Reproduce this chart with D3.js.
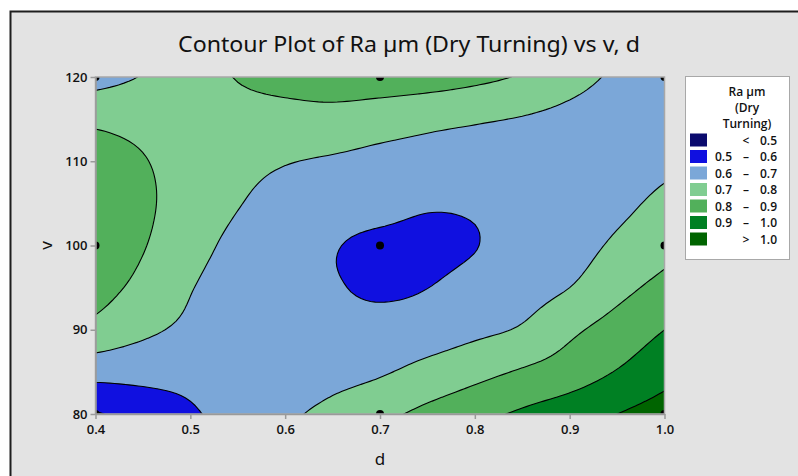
<!DOCTYPE html>
<html>
<head>
<meta charset="utf-8">
<script src="https://cdn.jsdelivr.net/npm/d3@7"></script>
<style>
  body { margin: 0; background: #fff; }
  svg text { font-family: "Noto Sans", "Open Sans", sans-serif; fill: #111; }
</style>
</head>
<body>
<div id="chart"></div>
<script>
// values
const dTicks = [0.4, 0.5, 0.6, 0.7, 0.8, 0.9, 1.0];
const vTicks = [80, 90, 100, 110, 120];

// grid of Ra (µm): columns are d, rows are v
const dLevels = [0.40, 0.45, 0.50, 0.55, 0.60, 0.65, 0.70, 0.75, 0.80, 0.85, 0.90, 0.95, 1.00];
const vLevels = [80, 85, 90, 95, 100, 105, 110, 115, 120];
const raRows = [
  [0.490, 0.545, 0.590, 0.630, 0.680, 0.730, 0.775, 0.825, 0.870, 0.915, 0.955, 1.000, 1.045],
  [0.635, 0.630, 0.625, 0.625, 0.635, 0.665, 0.690, 0.730, 0.770, 0.810, 0.850, 0.905, 0.965],
  [0.770, 0.720, 0.680, 0.650, 0.635, 0.630, 0.635, 0.650, 0.680, 0.710, 0.780, 0.840, 0.900],
  [0.835, 0.775, 0.705, 0.655, 0.620, 0.607, 0.586, 0.599, 0.640, 0.665, 0.700, 0.770, 0.830],
  [0.850, 0.805, 0.735, 0.675, 0.635, 0.606, 0.576, 0.569, 0.596, 0.650, 0.665, 0.715, 0.765],
  [0.860, 0.815, 0.760, 0.705, 0.665, 0.648, 0.640, 0.612, 0.615, 0.635, 0.655, 0.680, 0.720],
  [0.845, 0.805, 0.765, 0.730, 0.705, 0.690, 0.675, 0.665, 0.660, 0.655, 0.650, 0.660, 0.680],
  [0.780, 0.770, 0.765, 0.765, 0.765, 0.765, 0.745, 0.725, 0.710, 0.695, 0.675, 0.655, 0.645],
  [0.660, 0.705, 0.750, 0.805, 0.835, 0.855, 0.860, 0.850, 0.825, 0.790, 0.735, 0.685, 0.650]
];

// design points
const pointD = [0.4, 0.4, 0.4, 0.7, 0.7, 0.7, 1.0, 1.0, 1.0];
const pointV = [80, 100, 120, 80, 100, 120, 80, 100, 120];

// legend bands
const bandBreaks = [0.5, 0.6, 0.7, 0.8, 0.9, 1.0];
const bandColors = ["#0b0b6e", "#1010e0", "#7ba7d8", "#80cd91", "#52b05b", "#008023", "#006400"];
const bandLow = ["", "0.5", "0.6", "0.7", "0.8", "0.9", ""];
const bandSign = ["<", "\u2013", "\u2013", "\u2013", "\u2013", "\u2013", ">"];
const bandHigh = ["0.5", "0.6", "0.7", "0.8", "0.9", "1.0", "1.0"];

const width = 798;
const height = 476;
const plotLeft = 95.5, plotRight = 664.5, plotTop = 77, plotBottom = 414;

let svg = d3.select("#chart").append("svg")
  .attr("width", width)
  .attr("height", height);

// outer frame
svg.append("rect")
  .attr("x", 10.5).attr("y", 11.5)
  .attr("width", width).attr("height", height)
  .attr("fill", "#e3e3e3")
  .attr("stroke", "#1e1e1e")
  .attr("stroke-width", 2);

svg.append("text")
  .attr("x", 409)
  .attr("y", 52)
  .attr("text-anchor", "middle")
  .style("font-size", "21px")
  .attr("textLength", 462)
  .attr("lengthAdjust", "spacingAndGlyphs")
  .text("Contour Plot of Ra \u00b5m (Dry Turning) vs v, d");

let xScale = d3.scaleLinear().domain([0.4, 1.0]).range([plotLeft, plotRight]);
let yScale = d3.scaleLinear().domain([80, 120]).range([plotBottom, plotTop]);

// smooth the read grid onto a finer one for drawing (Catmull-Rom)
const nCols = dLevels.length, nRows = vLevels.length;
function cell(i, j) {
  // linear extension past the edges
  if (i < 0) return 2 * cell(0, j) - cell(1, j);
  if (i > nCols - 1) return 2 * cell(nCols - 1, j) - cell(nCols - 2, j);
  if (j < 0) return 2 * cell(i, 0) - cell(i, 1);
  if (j > nRows - 1) return 2 * cell(i, nRows - 1) - cell(i, nRows - 2);
  return raRows[j][i];
}
function cr(p0, p1, p2, p3, t) {
  return 0.5 * (2 * p1 + (-p0 + p2) * t + (2 * p0 - 5 * p1 + 4 * p2 - p3) * t * t + (-p0 + 3 * p1 - 3 * p2 + p3) * t * t * t);
}
function sample(u, w) {
  let i = Math.min(Math.floor(u), nCols - 2), tx = u - i;
  let j = Math.min(Math.floor(w), nRows - 2), ty = w - j;
  let rows = [-1, 0, 1, 2].map(k => cr(cell(i - 1, j + k), cell(i, j + k), cell(i + 1, j + k), cell(i + 2, j + k), tx));
  return cr(rows[0], rows[1], rows[2], rows[3], ty);
}

const sub = 10;
const fx = (nCols - 1) * sub + 1, fy = (nRows - 1) * sub + 1;
const dStep = (dLevels[1] - dLevels[0]) / sub, vStep = (vLevels[1] - vLevels[0]) / sub;
let fine = new Array(fx * fy);
for (let y = 0; y < fy; y++) {
  for (let x = 0; x < fx; x++) {
    fine[y * fx + x] = sample(x / sub, y / sub);
  }
}

let contours = d3.contours().size([fx, fy]).thresholds(bandBreaks)(fine);

let proj = d3.geoTransform({
  point: function(x, y) {
    this.stream.point(xScale(dLevels[0] + (x - 0.5) * dStep), yScale(vLevels[0] + (y - 0.5) * vStep));
  }
});
let path = d3.geoPath(proj);

svg.append("clipPath").attr("id", "plotClip")
  .append("rect")
  .attr("x", plotLeft).attr("y", plotTop)
  .attr("width", plotRight - plotLeft).attr("height", plotBottom - plotTop);

let plot = svg.append("g").attr("clip-path", "url(#plotClip)");

plot.append("rect")
  .attr("x", plotLeft).attr("y", plotTop)
  .attr("width", plotRight - plotLeft).attr("height", plotBottom - plotTop)
  .attr("fill", bandColors[0]);

plot.selectAll("path.band")
  .data(contours)
  .enter().append("path")
  .attr("class", "band")
  .attr("d", path)
  .attr("fill", (d, i) => bandColors[i + 1]);

plot.selectAll("path.line")
  .data(contours)
  .enter().append("path")
  .attr("class", "line")
  .attr("d", path)
  .attr("fill", "none")
  .attr("stroke", "#000")
  .attr("stroke-width", 1.1);

plot.selectAll("circle")
  .data(pointD.map((d, i) => ({ d: d, v: pointV[i] })))
  .enter().append("circle")
  .attr("cx", p => xScale(p.d))
  .attr("cy", p => yScale(p.v))
  .attr("r", 4)
  .attr("fill", "#000");

// plot border
svg.append("rect")
  .attr("x", plotLeft).attr("y", plotTop)
  .attr("width", plotRight - plotLeft).attr("height", plotBottom - plotTop)
  .attr("fill", "none")
  .attr("stroke", "#a8a8a8")
  .attr("stroke-width", 1.5);

// axes
let xAxis = svg.append("g")
  .attr("transform", `translate(0,${plotBottom})`)
  .call(d3.axisBottom(xScale).tickValues(dTicks).tickFormat(d3.format(".1f")).tickSize(5).tickSizeOuter(0));
let yAxis = svg.append("g")
  .attr("transform", `translate(${plotLeft},0)`)
  .call(d3.axisLeft(yScale).tickValues(vTicks).tickSize(5).tickSizeOuter(0));

[xAxis, yAxis].forEach(ax => {
  ax.select(".domain").attr("stroke", "#9a9a9a").attr("stroke-width", 1.5);
  ax.selectAll(".tick line").attr("stroke", "#9a9a9a").attr("stroke-width", 1.5);
  ax.selectAll(".tick text")
    .style("font-size", "13px")
    .style("font-family", "'Open Sans', sans-serif")
    .style("font-weight", 600)
    .attr("fill", "#1a1a1a");
});
xAxis.selectAll(".tick text").attr("dy", "1em").attr("y", 7);
yAxis.selectAll(".tick text").attr("x", -8);

svg.append("text")
  .attr("x", (plotLeft + plotRight) / 2)
  .attr("y", 465)
  .attr("text-anchor", "middle")
  .style("font-size", "17px")
  .text("d");

svg.append("text")
  .attr("transform", `translate(52,${yScale(100)}) rotate(-90)`)
  .attr("text-anchor", "middle")
  .style("font-size", "17px")
  .text("v");

// legend
let legend = svg.append("g")
  .style("font-family", "'Open Sans', sans-serif")
  .style("font-weight", 600);
legend.append("rect")
  .attr("x", 685.5).attr("y", 76.5)
  .attr("width", 104).attr("height", 183)
  .attr("fill", "#fff")
  .attr("stroke", "#a8a8a8");

["Ra \u00b5m", "(Dry", "Turning)"].forEach((t, i) => {
  legend.append("text")
    .attr("x", 747)
    .attr("y", 96 + i * 16)
    .attr("text-anchor", "middle")
    .style("font-size", "12px")
    .style("font-family", "'Open Sans', sans-serif")
    .text(t);
});

let rows = legend.selectAll("g.row")
  .data(bandColors)
  .enter().append("g")
  .attr("class", "row")
  .attr("transform", (d, i) => `translate(0,${140 + i * 16.5})`);

rows.append("rect")
  .attr("x", 690).attr("y", -6.5)
  .attr("width", 17).attr("height", 13)
  .attr("fill", d => d);

rows.append("text")
  .attr("x", 715).attr("y", 4.5)
  .style("font-size", "12px")
  .style("font-family", "'Open Sans', sans-serif")
  .text((d, i) => bandLow[i]);

rows.append("text")
  .attr("x", 746).attr("y", 4.5)
  .attr("text-anchor", "middle")
  .style("font-size", "12px")
  .style("font-family", "'Open Sans', sans-serif")
  .text((d, i) => bandSign[i]);

rows.append("text")
  .attr("x", 777).attr("y", 4.5)
  .attr("text-anchor", "end")
  .style("font-size", "12px")
  .style("font-family", "'Open Sans', sans-serif")
  .text((d, i) => bandHigh[i]);
</script>
</body>
</html>
